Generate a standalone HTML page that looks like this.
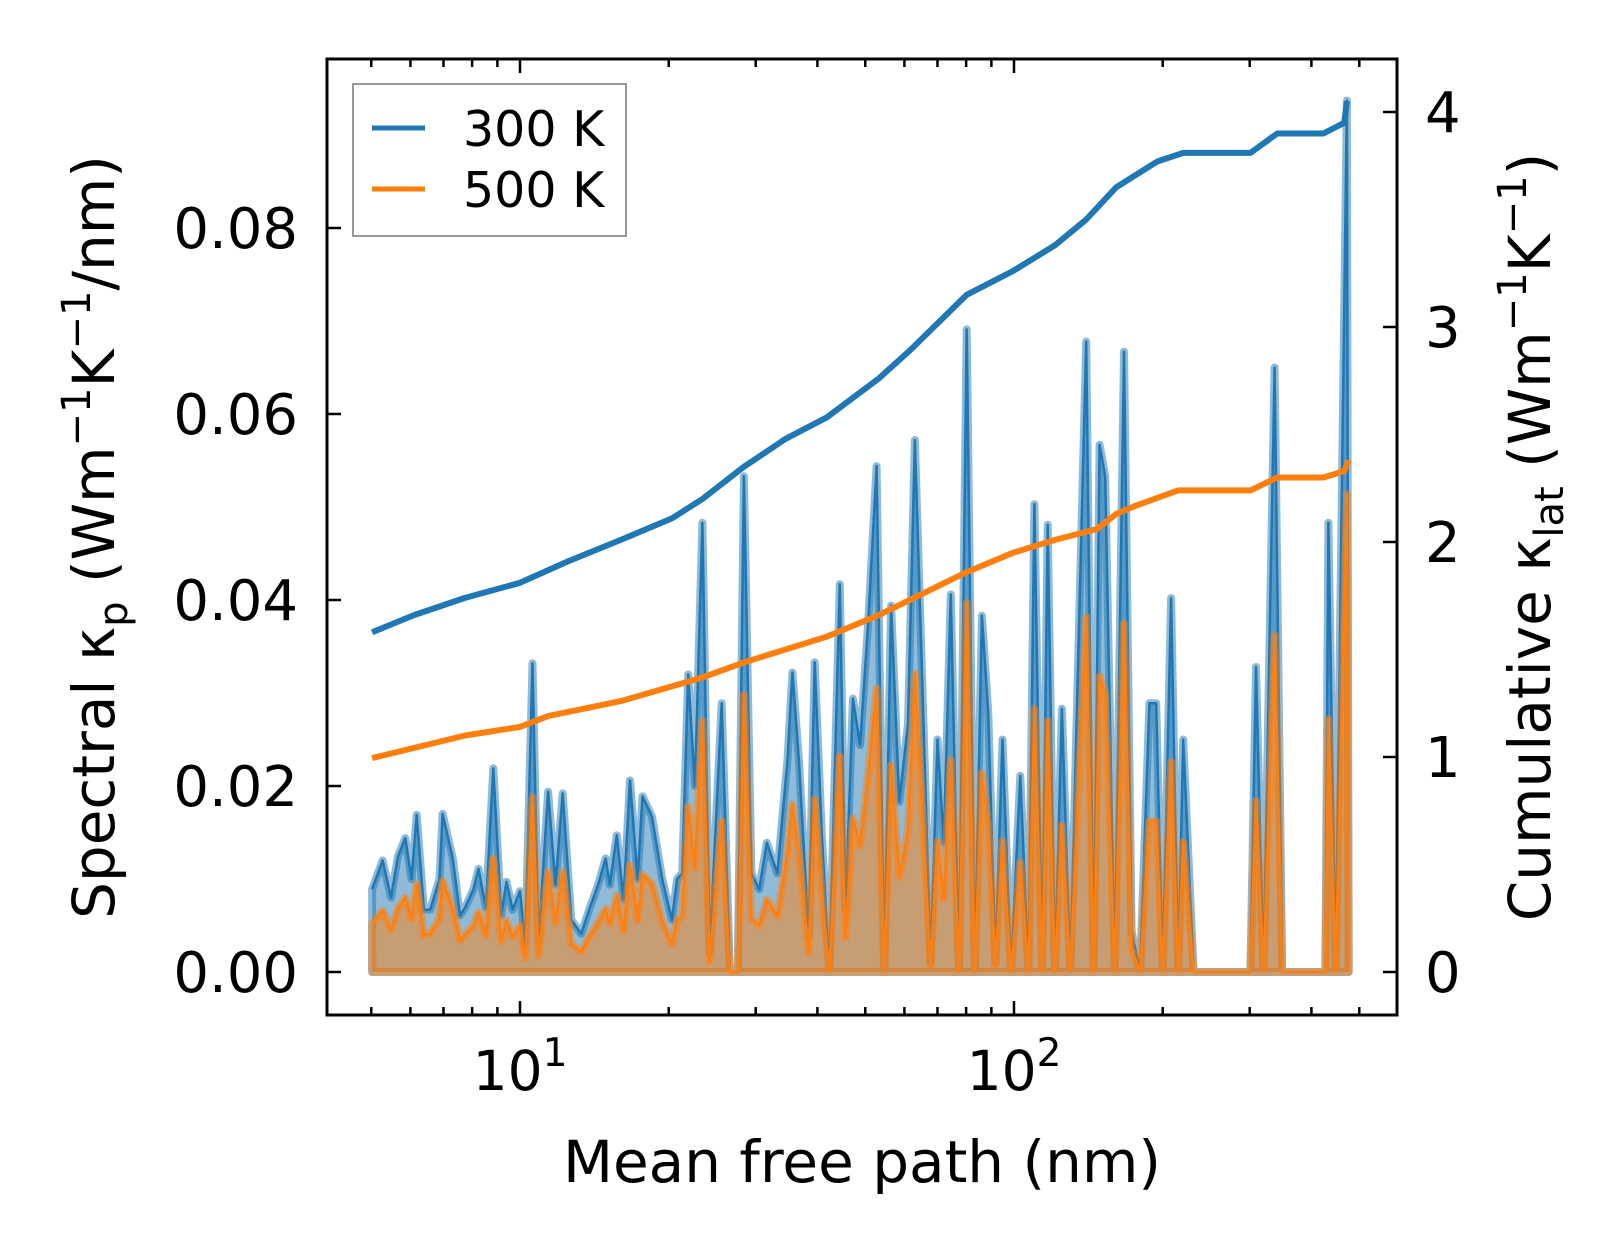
<!DOCTYPE html>
<html><head><meta charset="utf-8">
<style>
html,body{margin:0;padding:0;background:#fff;}
svg text{font-family:"DejaVu Sans","Liberation Sans",sans-serif;fill:#000;}
</style></head>
<body>
<svg id="chart" width="1623" height="1254" viewBox="0 0 1623 1254" xmlns="http://www.w3.org/2000/svg">
<rect width="1623" height="1254" fill="#fff"/>
<g id="plot"></g>
<g id="axes"></g>
</svg>
<script>
// Spectral data (mean free path in nm, spectral kappa)
const mfp = [5.02,5.27,5.48,5.66,5.86,6.03,6.18,6.39,6.58,6.87,6.97,7.31,7.56,7.74,8.05,8.24,8.53,8.83,9.16,9.39,9.66,10.0,10.25,10.6,10.9,11.4,11.8,12.2,12.7,13.3,13.8,14.4,14.9,15.2,15.7,16.2,16.7,17.3,17.7,18.5,19.4,20.3,20.8,21.3,21.9,22.6,23.4,24.2,25.6,26.6,27.6,28.4,29.4,30.5,31.6,33.2,34.8,35.6,36.7,38.4,39.5,40.8,42.3,44.4,45.6,47.2,48.8,50.7,52.7,54.6,56.4,58.6,61.0,63.0,65.5,67.8,70.0,72.1,74.5,77.4,80.2,83.3,86.1,88.7,91.7,94.8,98.6,103,107,110,114,117,121,125,130,140,145,149,153,160,167,173,180,188,194,200,208,215,220,231,301,309,320,337,349,427,433,448,472,476];
const spec300 = [.0089,.012,.008,.0124,.0144,.010,.0169,.0067,.0067,.010,.017,.0122,.0061,.0069,.0089,.0111,.0069,.0219,.0061,.0097,.0067,.0087,.003,.0332,.0033,.0194,.0094,.0192,.0056,.0041,.0067,.0094,.0122,.0094,.0147,.0078,.0206,.010,.0189,.0167,.010,.0056,.010,.0106,.032,.020,.0483,.0022,.0289,0,0,.0533,.0106,.0089,.0139,.0106,.0228,.0322,.0228,.0039,.0333,.015,0,.0417,.0067,.0294,.0244,.0378,.0544,0,.0394,.0183,.0267,.0572,.0278,.0011,.025,.0139,.0406,0,.0691,0,.0383,.0278,.0011,.025,0,.0211,0,.0503,0,.0481,0,.0283,0,.0678,0,.0567,.0533,0,.0667,.0044,0,.0289,.0289,0,.0402,0,.025,0,0,.0328,0,.065,0,0,.0483,0,.0937,0];
const spec500 = [.0052,.0066,.0045,.0068,.008,.0057,.0095,.004,.0041,.0058,.0098,.0068,.0034,.004,.005,.0064,.004,.0122,.0033,.0055,.0038,.005,.0015,.0188,.0018,.0108,.0053,.0108,.003,.0022,.0038,.0053,.0068,.0052,.0082,.0044,.0115,.0056,.0105,.0095,.0055,.003,.0056,.006,.0178,.0112,.027,.0012,.0162,0,0,.0298,.0058,.005,.0078,.006,.0128,.018,.0128,.0021,.0186,.0083,0,.0232,.0037,.0165,.0136,.0212,.0305,0,.0222,.0102,.015,.0321,.0155,.0006,.014,.0078,.0228,0,.0397,0,.0214,.0156,.0006,.0141,0,.0118,0,.0283,0,.027,0,.0158,0,.0382,0,.0318,.0299,0,.0375,.0025,0,.0162,.0162,0,.0226,0,.014,0,0,.0184,0,.0362,0,0,.0272,0,.0514,0];
// Cumulative data
const cumMfp300 = [5.02,6.10,7.74,10.0,12.5,16.0,20.3,23.4,28.4,34.5,41.8,53.2,61.5,80.2,99.5,121,140,161,195,220,301,341,423,466,472];
const cum300 = [1.58,1.66,1.74,1.81,1.91,2.01,2.11,2.20,2.35,2.48,2.58,2.76,2.89,3.15,3.26,3.38,3.50,3.65,3.77,3.81,3.81,3.90,3.90,3.95,4.05];
const cumMfp500 = [5.02,7.74,10.0,11.4,16.0,23.4,28.4,41.8,53.2,61.5,80.2,99.5,121,147,161,177,215,301,341,423,466,476];
const cum500 = [0.995,1.10,1.14,1.19,1.26,1.37,1.44,1.56,1.66,1.73,1.86,1.95,2.01,2.06,2.13,2.17,2.24,2.24,2.30,2.30,2.33,2.38];
const yTicks = [0,0.02,0.04,0.06,0.08];
const yTickLabels = ["0.00","0.02","0.04","0.06","0.08"];
const rTicks = [0,1,2,3,4];
const rTickLabels = ["0","1","2","3","4"];

const L=327,R=1397,T=59,B=1015;
const X=v=>520+494*Math.log10(v/10);
const Y=k=>972-k*9300;
const YR=c=>972-c*215;
const NS="http://www.w3.org/2000/svg";
const plot=document.getElementById('plot'), axes=document.getElementById('axes');
function mk(tag,attrs,parent){const e=document.createElementNS(NS,tag);for(const k in attrs)e.setAttribute(k,attrs[k]);parent.appendChild(e);return e;}

const cp=mk('clipPath',{id:'clip'},plot);
mk('rect',{x:L,y:T,width:R-L,height:B-T},cp);
const g=mk('g',{'clip-path':'url(#clip)'},plot);

function spectral(vals,color,name){
  const pts=mfp.map((v,i)=>X(v).toFixed(1)+','+Y(vals[i]).toFixed(1)).join(' ');
  const area=mk('polygon',{points:X(mfp[0])+','+Y(0)+' '+pts+' '+X(mfp[mfp.length-1])+','+Y(0),fill:color,'fill-opacity':0.5,stroke:color,'stroke-opacity':0.5,'stroke-width':8,'stroke-linejoin':'round'},g);
  
  
  const ln=mk('polyline',{points:pts,fill:'none',stroke:color,'stroke-width':2.5,'stroke-linejoin':'round'},g);
  
  
}
spectral(spec300,'#1f77b4','spectral-300k');
spectral(spec500,'#ff7f0e','spectral-500k');

function cum(xs,vals,color,name){
  const pts=xs.map((v,i)=>X(v).toFixed(1)+','+YR(vals[i]).toFixed(1)).join(' ');
  const ln=mk('polyline',{points:pts,fill:'none',stroke:color,'stroke-width':6,'stroke-linejoin':'round'},g);
  
  
}
cum(cumMfp300,cum300,'#1f77b4','cumulative-300k');
cum(cumMfp500,cum500,'#ff7f0e','cumulative-500k');

const sp=mk('rect',{x:L,y:T,width:R-L,height:B-T,fill:'none',stroke:'#000','stroke-width':3},axes);



for(let d=1;d<=3;d++){for(let m=1;m<10;m++){
  const val=m*Math.pow(10,d-1);
  const x=X(val); if(x<L||x>R)continue;
  const len=m===1?14:8;
  mk('line',{x1:x,x2:x,y1:B,y2:B-len,stroke:'#000','stroke-width':2.5},axes);
  mk('line',{x1:x,x2:x,y1:T,y2:T+len,stroke:'#000','stroke-width':2.5},axes);
}}
[[10,'1'],[100,'2']].forEach(([v,e])=>{
  const t=mk('text',{x:X(v),y:1090,'font-size':55,'text-anchor':'middle'},axes);
  
  
  t.innerHTML='10<tspan dy="-24" font-size="39">'+e+'</tspan>';
});
yTicks.forEach((k,i)=>{
  const y=Y(k);
  mk('line',{x1:L,x2:L+14,y1:y,y2:y,stroke:'#000','stroke-width':2.5},axes);
  const t=mk('text',{x:298,y:y+20,'font-size':56,'text-anchor':'end'},axes);
  
  
  t.textContent=yTickLabels[i];
});
rTicks.forEach((c,i)=>{
  const y=YR(c);
  mk('line',{x1:R,x2:R-14,y1:y,y2:y,stroke:'#000','stroke-width':2.5},axes);
  const t=mk('text',{x:1425,y:y+20,'font-size':56,'text-anchor':'start'},axes);
  
  
  t.textContent=rTickLabels[i];
});
</script>
<svg style="position:absolute;left:0;top:0" width="1623" height="1254">
<text x="862" y="1182" font-size="58" text-anchor="middle" font-family="DejaVu Sans, Liberation Sans, sans-serif">Mean free path (nm)</text>
<text transform="translate(114,537) rotate(-90)" font-size="58" text-anchor="middle" font-family="DejaVu Sans, Liberation Sans, sans-serif">Spectral κ<tspan dy="13" font-size="40">p</tspan><tspan dy="-13"> (Wm</tspan><tspan dy="-24" font-size="40">−1</tspan><tspan dy="24">K</tspan><tspan dy="-24" font-size="40">−1</tspan><tspan dy="24">/nm)</tspan></text>
<text transform="translate(1550,537) rotate(-90)" font-size="58" text-anchor="middle" font-family="DejaVu Sans, Liberation Sans, sans-serif">Cumulative κ<tspan dy="13" font-size="40">lat</tspan><tspan dy="-13"> (Wm</tspan><tspan dy="-24" font-size="40">−1</tspan><tspan dy="24">K</tspan><tspan dy="-24" font-size="40">−1</tspan><tspan dy="24">)</tspan></text>
<g>
<rect x="353" y="84" width="273" height="152" fill="#fff" fill-opacity="0.8" stroke="#999" stroke-width="2"/>
<line x1="372" y1="128" x2="425" y2="128" stroke="#1f77b4" stroke-width="5"/>
<text x="463" y="146" font-size="49" font-family="DejaVu Sans, Liberation Sans, sans-serif">300 K</text>
<line x1="372" y1="189" x2="425" y2="189" stroke="#ff7f0e" stroke-width="5"/>
<text x="463" y="207" font-size="49" font-family="DejaVu Sans, Liberation Sans, sans-serif">500 K</text>
</g>
</svg>
</body></html>
